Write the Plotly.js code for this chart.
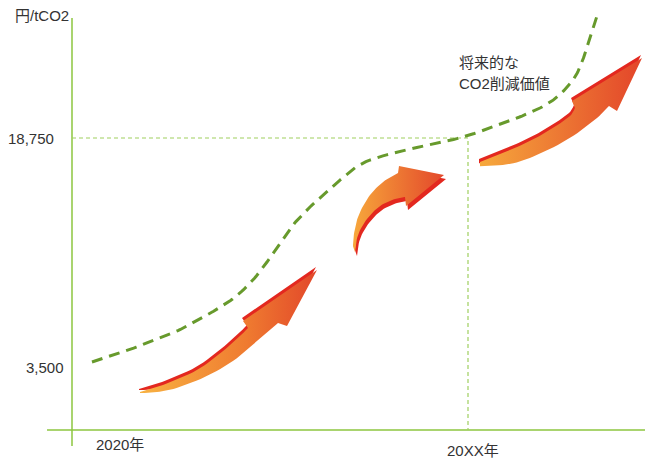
<!DOCTYPE html>
<html><head><meta charset="utf-8">
<script src="https://cdn.plot.ly/plotly-3.0.1.min.js"></script>
<style>html,body{margin:0;padding:0;background:#fff}#chart{width:645px;height:459px}</style>
</head><body><div id="chart"></div>
<script>
// ---- tick values / labels ----
const yTickVals = [3500, 18750];
const yTickText = ['3,500', '18,750'];
const yearLabels = ['2020年', '20XX年'];
const yearX = [48, 396];
const yUnit = '円/tCO2';
const noteLines = ['将来的な', 'CO2削減価値'];

// ---- future CO2 reduction value curve (dashed) ----
const curveX = [20, 48, 75, 101, 125, 148, 165, 181, 195, 208, 221, 238, 255, 268, 291, 325, 358, 391, 418, 445, 468, 485, 501, 510, 516, 523, 525];
const curveY = [3833, 4432, 5098, 5764, 6600, 7470, 8260, 9294, 10492, 11758, 12956, 14155, 15154, 15950, 17085, 17818, 18300, 18817, 19416, 20082, 20748, 21480, 22612, 23811, 25076, 26475, 26875];

// ---- arrows: upper edge (tail→neck), head (barb, tip, barb, notch), lower edge (notch→tail) ----
const arrow1UpperX = [68, 91, 125, 151, 168, 176];
const arrow1UpperY = [1835, 2301, 3300, 4565, 5564, 6097];
const arrow1HeadX = [171, 245, 215, 206];
const arrow1HeadY = [6563, 9960, 6230, 6430];
const arrow1LowerX = [206, 191, 168, 141, 108, 85, 68];
const arrow1LowerY = [6430, 5564, 4233, 3100, 2168, 1835, 1769];

const arrow2UpperX = [283, 281, 283, 288, 298, 311, 326];
const arrow2UpperY = [11158, 11624, 12757, 13822, 14954, 15820, 16419];
const arrow2HeadX = [327, 372, 334, 333];
const arrow2HeadY = [16885, 16286, 14222, 14821];
const arrow2LowerX = [333, 323, 308, 295, 286, 283];
const arrow2LowerY = [14821, 14688, 14222, 13356, 12290, 11158];

const arrow3UpperX = [408, 431, 458, 481, 498, 503];
const arrow3UpperY = [17152, 17751, 18550, 19416, 20215, 20748];
const arrow3HeadX = [500, 570, 545, 537];
const arrow3HeadY = [21214, 24078, 20548, 20881];
const arrow3LowerX = [537, 525, 498, 465, 438, 411, 408];
const arrow3LowerY = [20881, 20082, 18750, 17618, 17019, 16885, 16885];

const xRange = [0, 573];
const yRange = [-695, 27940];
const M = {l: 72, r: 0, t: 0, b: 29};
const W = 645, H = 459;
const pxY = (yRange[1] - yRange[0]) / (H - M.t - M.b); // yen per pixel

const axisGreen = '#8dc63f';
const refGreen = '#9fcf5f';
const curveGreen = '#679a2c';
const red = '#e3281f';
const txt = '#333333';
const font = 'Liberation Sans, Arial, Noto Sans CJK JP, sans-serif';

// Catmull-Rom densification for smooth edges
function smooth(xs, ys, n) {
  const ox = [], oy = [], L = xs.length;
  for (let i = 0; i < L - 1; i++) {
    const i0 = Math.max(i - 1, 0), i3 = Math.min(i + 2, L - 1);
    for (let k = 0; k < n; k++) {
      const t = k / n, t2 = t * t, t3 = t2 * t;
      const f = (p0, p1, p2, p3) => 0.5 * ((2 * p1) + (-p0 + p2) * t + (2 * p0 - 5 * p1 + 4 * p2 - p3) * t2 + (-p0 + 3 * p1 - 3 * p2 + p3) * t3);
      ox.push(f(xs[i0], xs[i], xs[i + 1], xs[i3]));
      oy.push(f(ys[i0], ys[i], ys[i + 1], ys[i3]));
    }
  }
  ox.push(xs[L - 1]); oy.push(ys[L - 1]);
  return [ox, oy];
}

function arrowTraces(ux, uy, hx, hy, lx, ly, dx, dy, scale) {
  const [sux, suy] = smooth(ux, uy, 8);
  const [slx, sly] = smooth(lx, ly, 8);
  const xs = [...sux, ...hx, ...slx], ys = [...suy, ...hy, ...sly];
  return [
    {x: xs.map(v => v + dx), y: ys.map(v => v - dy * pxY), mode: 'lines', fill: 'toself',
     fillcolor: red, line: {width: 0, color: red}, hoverinfo: 'skip'},
    {x: xs, y: ys, mode: 'lines', fill: 'toself', line: {width: 0, color: 'rgba(0,0,0,0)'},
     fillgradient: {type: 'horizontal', colorscale: scale}, hoverinfo: 'skip'}
  ];
}

const [cx, cy] = smooth(curveX, curveY, 10);

const traces = [
  {x: [0, yearX[1], yearX[1]], y: [yTickVals[1], yTickVals[1], yRange[0]], mode: 'lines',
   line: {color: refGreen, width: 1.2, dash: '4px,3px'}, hoverinfo: 'skip'},
  {x: cx, y: cy, mode: 'lines', line: {color: curveGreen, width: 3, dash: '11px,7px'}, hoverinfo: 'skip'},
  ...arrowTraces(arrow1UpperX, arrow1UpperY, arrow1HeadX, arrow1HeadY, arrow1LowerX, arrow1LowerY, -1, -3, [[0, '#f8b242'], [0.6, '#ef7b30'], [1, '#e2472a']]),
  ...arrowTraces(arrow2UpperX, arrow2UpperY, arrow2HeadX, arrow2HeadY, arrow2LowerX, arrow2LowerY, 2, 4, [[0, '#f7a73b'], [1, '#e3482b']]),
  ...arrowTraces(arrow3UpperX, arrow3UpperY, arrow3HeadX, arrow3HeadY, arrow3LowerX, arrow3LowerY, -1, -3, [[0, '#f6a93c'], [1, '#e3452a']])
];

const ann = (o) => Object.assign({showarrow: false, font: {family: font, size: 15, color: txt}}, o);
const annotations = [
  ann({text: yUnit, xref: 'paper', yref: 'paper', x: -0.002, y: 0.963, xanchor: 'right', yanchor: 'middle'}),
  ann({text: yTickText[1], xref: 'paper', yref: 'y', x: -0.028, y: yTickVals[1], xanchor: 'right', yanchor: 'middle'}),
  ann({text: yTickText[0], xref: 'paper', yref: 'y', x: -0.010, y: yTickVals[0], xanchor: 'right', yanchor: 'middle'}),
  ann({text: yearLabels[0], xref: 'x', yref: 'paper', x: yearX[0], y: -0.033, xanchor: 'center', yanchor: 'middle'}),
  ann({text: yearLabels[1], xref: 'x', yref: 'paper', x: yearX[1], xshift: 5, y: -0.047, xanchor: 'center', yanchor: 'middle'}),
  ann({text: noteLines[0], xref: 'x', yref: 'y', x: 385, y: 23811, xanchor: 'left', yanchor: 'middle'}),
  ann({text: noteLines[1], xref: 'x', yref: 'y', x: 385, y: 22413, xanchor: 'left', yanchor: 'middle'})
];

const layout = {
  width: W, height: H, margin: Object.assign({pad: 0}, M),
  paper_bgcolor: '#ffffff', plot_bgcolor: '#ffffff', showlegend: false,
  xaxis: {range: xRange, visible: false, fixedrange: true},
  yaxis: {range: yRange, visible: false, fixedrange: true},
  shapes: [
    {type: 'line', xref: 'paper', yref: 'paper', x0: 0, x1: 0, y0: -0.037, y1: 0.958, line: {color: axisGreen, width: 1.5}, layer: 'below'},
    {type: 'line', xref: 'paper', yref: 'paper', x0: -0.0436, x1: 1, y0: 0, y1: 0, line: {color: axisGreen, width: 1.5}, layer: 'below'}
  ],
  annotations: annotations
};

Plotly.newPlot('chart', traces, layout, {displayModeBar: false, staticPlot: true});
</script></body></html>
